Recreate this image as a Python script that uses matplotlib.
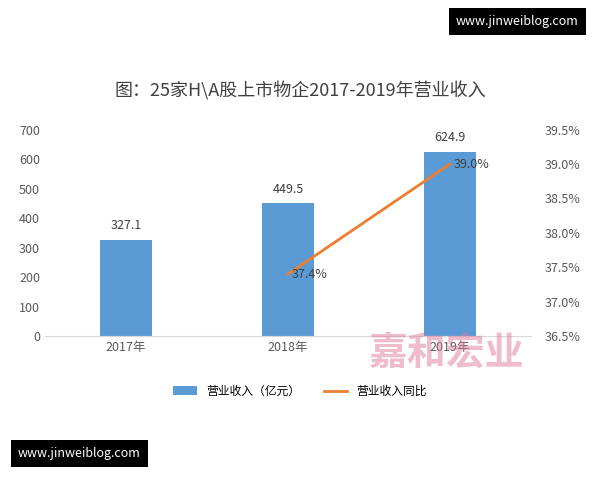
import matplotlib.pyplot as plt
from matplotlib.ticker import FuncFormatter

plt.rcParams['font.family'] = ['Noto Sans CJK SC', 'DejaVu Sans']

years = ['2017年', '2018年', '2019年']
revenue = [327.1, 449.5, 624.9]
growth_years = ['2018年', '2019年']
growth = [37.4, 39.0]

fig = plt.figure(figsize=(6, 4.8), dpi=100)
ax = fig.add_axes([0.075, 0.30, 0.81, 0.43])
x = list(range(len(years)))
ax.bar(x, revenue, width=0.32, color='#5B9BD5', label='营业收入（亿元）')
for xi, v in zip(x, revenue):
    ax.text(xi, v + 25, f'{v:.1f}', ha='center', va='bottom', fontsize=9, color='#404040')
ax.set_ylim(0, 700)
ax.set_yticks(range(0, 701, 100))
ax.set_xlim(-0.5, 2.5)
ax.set_xticks(x)
ax.set_xticklabels(years, fontsize=9, color='#595959')
ax.tick_params(axis='y', labelsize=9, colors='#595959', length=0)
ax.tick_params(axis='x', length=0)
for s in ['top', 'right', 'left']:
    ax.spines[s].set_visible(False)
ax.spines['bottom'].set_color('#d9d9d9')

ax2 = ax.twinx()
gx = [years.index(y) for y in growth_years]
ax2.plot(gx, growth, color='#ED7D31', lw=2, label='营业收入同比')
for xi, v in zip(gx, growth):
    ax2.text(xi + 0.02, v, f'{v:.1f}%', ha='left', va='center', fontsize=9, color='#404040')
ax2.set_ylim(36.5, 39.5)
ax2.set_yticks([36.5 + 0.5 * i for i in range(7)])
ax2.yaxis.set_major_formatter(FuncFormatter(lambda v, p: f'{v:.1f}%'))
ax2.tick_params(axis='y', labelsize=9, colors='#595959', length=0, pad=10)
for s in ['top', 'right', 'left', 'bottom']:
    ax2.spines[s].set_visible(False)

fig.text(0.5, 0.80, '图：25家H\\A股上市物企2017-2019年营业收入', ha='center', fontsize=13, color='#404040')
h1, l1 = ax.get_legend_handles_labels()
h2, l2 = ax2.get_legend_handles_labels()
fig.legend(h1 + h2, l1 + l2, loc='center', bbox_to_anchor=(0.5, 0.185), ncol=2, frameon=False, fontsize=8.5)

fig.text(0.745, 0.24, '嘉和宏业', ha='center', fontsize=28, color='#e07a9a', alpha=0.5, fontweight='bold')
fig.text(0.76, 0.955, 'www.jinweiblog.com', ha='left', va='center', fontsize=9, color='white',
         bbox=dict(facecolor='black', edgecolor='none', pad=5))
fig.text(0.03, 0.055, 'www.jinweiblog.com', ha='left', va='center', fontsize=9, color='white',
         bbox=dict(facecolor='black', edgecolor='none', pad=5))

fig.savefig('out.png')
